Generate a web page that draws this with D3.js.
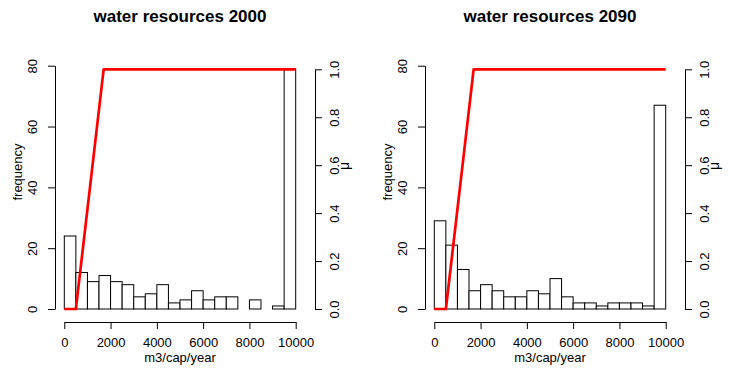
<!DOCTYPE html>
<html>
<head>
<meta charset="utf-8">
<script src="https://cdn.jsdelivr.net/npm/d3@7"></script>
<style>
body { margin: 0; background: #fff; }
svg text { font-family: "Liberation Sans", Arial, sans-serif; fill: #000; }
.axis path, .axis line { stroke: #000; }
</style>
</head>
<body>
<svg class="chart"></svg>
<script>
var binEdges = [0, 500, 1000, 1500, 2000, 2500, 3000, 3500, 4000, 4500, 5000,
    5500, 6000, 6500, 7000, 7500, 8000, 8500, 9000, 9500, 10000];
var freq2000 = [24, 12, 9, 11, 9, 8, 4, 5, 8, 2, 3, 6, 3, 4, 4, 0, 3, 0, 1, 79];
var freq2090 = [29, 21, 13, 6, 8, 6, 4, 4, 6, 5, 10, 4, 2, 2, 1, 2, 2, 2, 1, 67];
var muX = [0, 500, 1700, 10000];
var muY = [0, 0, 1, 1];
var xTicks = [0, 2000, 4000, 6000, 8000, 10000];
var freqTicks = [0, 20, 40, 60, 80];
var muTicks = [0, 0.2, 0.4, 0.6, 0.8, 1.0];
var titles = ["water resources 2000", "water resources 2090"];

var svg = d3.select(".chart")
        .attr("width", 730)
        .attr("height", 376);

drawPanel(0, titles[0], freq2000);
drawPanel(370, titles[1], freq2090);

function drawPanel(dx, title, counts) {
    var g = svg.append("g").attr("transform", "translate(" + dx + ",0)");

    var xRange = d3.scaleLinear().domain([0, 10000]).range([64.3, 295.7]);
    var yFreq = d3.scaleLinear().domain([0, 80]).range([309, 65.7]);
    var yMu = d3.scaleLinear().domain([0, 1]).range([309, 69.3]);

    // histogram bars
    g.selectAll(".bar")
            .data(counts)
            .enter().append("rect")
            .attr("class", "bar")
            .attr("x", function (d, i) { return xRange(binEdges[i]); })
            .attr("width", function (d, i) { return xRange(binEdges[i + 1]) - xRange(binEdges[i]); })
            .attr("y", function (d) { return yFreq(d); })
            .attr("height", function (d) { return yFreq(0) - yFreq(d); })
            .attr("fill", "#fff")
            .attr("stroke", "#000")
            .attr("stroke-width", 1);

    // membership function
    var line = d3.line()
            .x(function (d, i) { return xRange(muX[i]); })
            .y(function (d) { return yMu(d); });
    g.append("path")
            .datum(muY)
            .attr("d", line)
            .attr("fill", "none")
            .attr("stroke", "#ff0000")
            .attr("stroke-width", 2.7)
            .attr("stroke-linejoin", "round");

    // x axis
    var xAxis = g.append("g")
            .attr("class", "axis")
            .attr("transform", "translate(0,322)")
            .call(d3.axisBottom(xRange).tickValues(xTicks).tickFormat(d3.format("d"))
                    .tickSize(7).tickSizeOuter(0).tickPadding(9));
    xAxis.selectAll("text").style("font-size", "13px");
    xAxis.select(".domain").attr("fill", "none");

    // left axis
    var yAxis = g.append("g")
            .attr("class", "axis")
            .attr("transform", "translate(55,0)")
            .call(d3.axisLeft(yFreq).tickValues(freqTicks).tickSize(7).tickSizeOuter(0));
    yAxis.selectAll("text")
            .attr("transform", "rotate(-90)")
            .attr("x", 0)
            .attr("y", -18)
            .attr("dy", null)
            .style("text-anchor", "middle")
            .style("font-size", "13px");

    // right axis
    var muAxis = g.append("g")
            .attr("class", "axis")
            .attr("transform", "translate(315,0)")
            .call(d3.axisRight(yMu).tickValues(muTicks).tickFormat(d3.format(".1f"))
                    .tickSize(7).tickSizeOuter(0));
    muAxis.selectAll("text")
            .attr("transform", "rotate(-90)")
            .attr("x", 0)
            .attr("y", 24)
            .attr("dy", null)
            .style("text-anchor", "middle")
            .style("font-size", "13px");

    svg.selectAll(".axis").attr("font-family", null).attr("font-size", null);

    // labels
    g.append("text")
            .attr("x", 180)
            .attr("y", 22)
            .style("text-anchor", "middle")
            .style("font-weight", "bold")
            .style("font-size", "17px")
            .text(title);
    g.append("text")
            .attr("x", 180)
            .attr("y", 362)
            .style("text-anchor", "middle")
            .style("font-size", "13px")
            .text("m3/cap/year");
    g.append("text")
            .attr("transform", "translate(22,172) rotate(-90)")
            .style("text-anchor", "middle")
            .style("font-size", "13px")
            .text("frequency");
    g.append("text")
            .attr("transform", "translate(349,166) rotate(-90)")
            .style("text-anchor", "middle")
            .style("font-size", "14px")
            .text("\u03bc");
}
</script>
</body>
</html>
